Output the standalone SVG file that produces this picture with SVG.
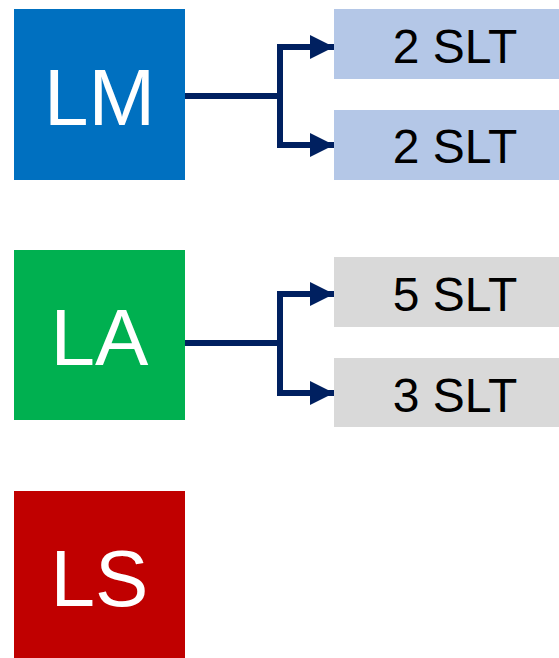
<svg xmlns="http://www.w3.org/2000/svg" width="559" height="658" viewBox="0 0 559 658">
<style>
.lbl{font-family:"Liberation Sans",Arial,sans-serif;text-anchor:middle}
.big{font-size:80px;fill:#FFFFFF}
.sm{font-size:48px;fill:#000000}
.conn{fill:none;stroke:#002060;stroke-width:6;stroke-linejoin:miter}
</style>
<defs>
<marker id="arr" markerUnits="userSpaceOnUse" markerWidth="24" markerHeight="24" refX="24" refY="12" orient="auto" viewBox="0 0 24 24">
<path d="M0,0 L24,12 L0,24 z" fill="#002060"/>
</marker>
</defs>
<rect width="559" height="658" fill="#FFFFFF"/>
<g id="LM">
<rect x="14" y="9" width="171" height="171" fill="#0070C0"/>
<text class="lbl big" x="99.5" y="125">LM</text>
</g>
<g id="LM-SLT1">
<rect x="334" y="9" width="242" height="70" fill="#B4C7E7"/>
<text class="lbl sm" x="455" y="63">2 SLT</text>
</g>
<g id="LM-SLT2">
<rect x="334" y="110" width="242" height="70" fill="#B4C7E7"/>
<text class="lbl sm" x="455" y="163">2 SLT</text>
</g>
<g id="LA">
<rect x="14" y="250" width="171" height="170" fill="#00B050"/>
<text class="lbl big" x="99.5" y="365">LA</text>
</g>
<g id="LA-SLT1">
<rect x="334" y="257" width="242" height="70" fill="#D9D9D9"/>
<text class="lbl sm" x="455" y="311">5 SLT</text>
</g>
<g id="LA-SLT2">
<rect x="334" y="358" width="242" height="69" fill="#D9D9D9"/>
<text class="lbl sm" x="455" y="412">3 SLT</text>
</g>
<g id="LS">
<rect x="14" y="491" width="171" height="170" fill="#C00000"/>
<text class="lbl big" x="99.5" y="606">LS</text>
</g>
<g id="connectors">
<path class="conn" d="M185,96 H280"/>
<path class="conn" d="M280,96 V47 H334" marker-end="url(#arr)"/>
<path class="conn" d="M280,96 V145 H334" marker-end="url(#arr)"/>
<path class="conn" d="M185,343 H280"/>
<path class="conn" d="M280,343 V294 H334" marker-end="url(#arr)"/>
<path class="conn" d="M280,343 V393 H334" marker-end="url(#arr)"/>
</g>
</svg>
